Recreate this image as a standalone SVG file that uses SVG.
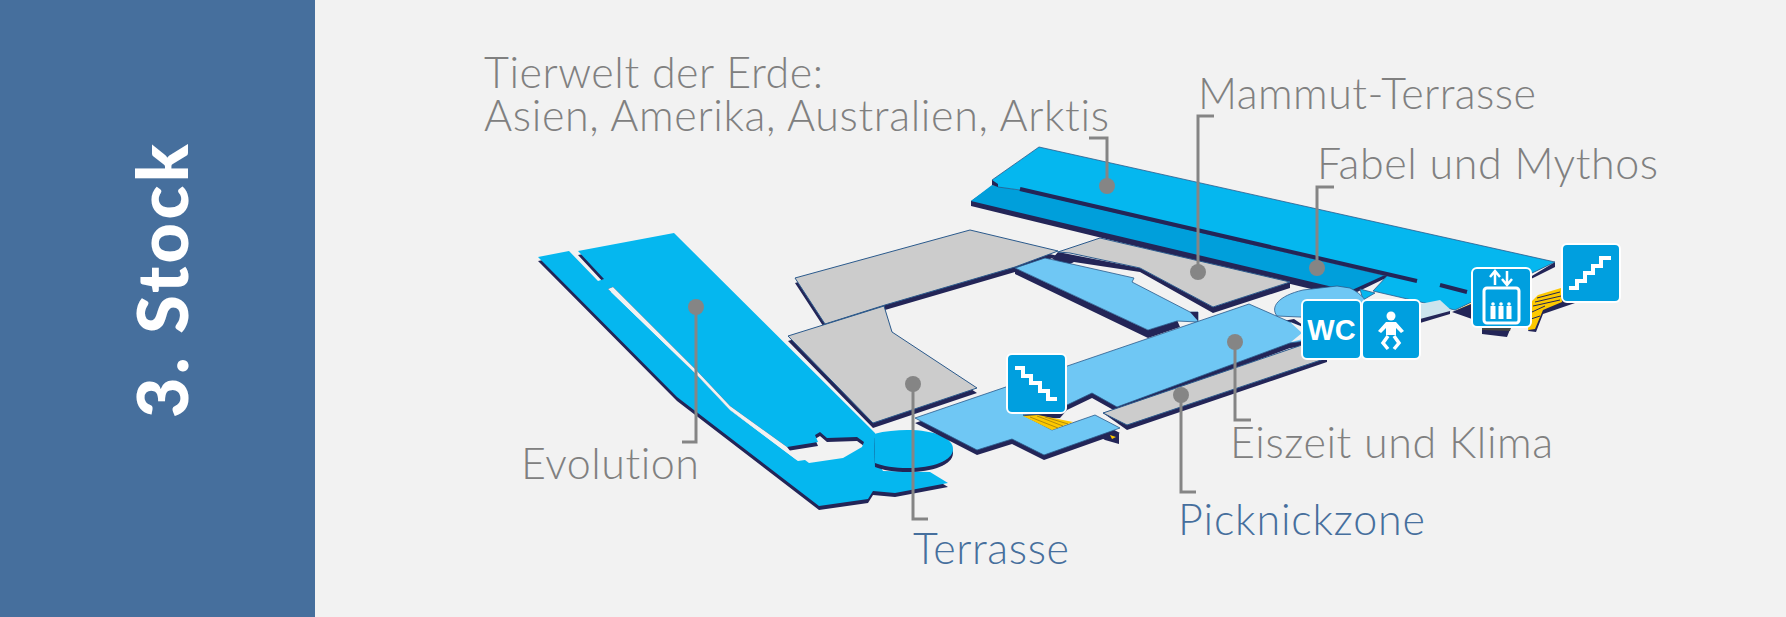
<svg xmlns="http://www.w3.org/2000/svg" width="1786" height="617" viewBox="0 0 1786 617">
<style>
.bright{fill:#05b7ef;stroke:#2b5a8c;stroke-width:.8}
.deep{fill:#009fdb}
.light{fill:#6fc7f4;stroke:#2b5a8c;stroke-width:.8}
.gray{fill:#cccccc;stroke:#2b5a8c;stroke-width:1}
.navy{fill:#232557}
.yellow{fill:#fdc800}
.bg{fill:#f2f2f2}
.lab{font-family:"Lato","Open Sans",sans-serif;font-weight:300;font-size:43px;fill:#808080;font-variant-ligatures:none}
.blu{fill:#466f9d}
.leader{fill:none;stroke:#858585;stroke-width:3}
.pin{fill:#858585}
.ico{fill:#009fdf;stroke:#fff;stroke-width:2}
.w{fill:none;stroke:#fff;stroke-width:4}
.wf{fill:#fff}
</style>
<defs>
<path id="evo" fill-rule="evenodd" d="M538,257 L569,251 L598,281 L604,279 L578,251 L674,233 L875,433 L880,466 L883,471 L930,472 L948,483 L895,493 L873,491 L868,499 L819,506 L677,397 Z M608,289 L613,287 L697,371 L730,406 L787,447 L818,442 L815,435 L820,432 L827,438 L857,437 L864,442 L862,447 L843,458 L809,463 L805,460 L798,461 L730,410 L696,374 Z"/>
<path id="oval" d="M874,434 C885,431 897,430 907,430 C935,430 953,438 953,449 C953,461 932,468 908,468 C895,468 882,466 875,463 Z"/>
<polygon id="g1" points="795,278 970,230 1058,251 1015,267 885,305 825,324"/>
<polygon id="g2" points="788,336 884,306 892,332 977,388 873,423"/>
<polygon id="mid" points="1015,268 1045,258 1134,278 1132,282 1190,312 1198,312 1198,322 1177,321 1148,330"/>
<polygon id="long" points="915,418 1249,304 1290,322 1312,331 1312,340 1290,343 1117,407 1092,393 1067,405 1060,413 1023,415 1052,430 1095,415 1120,428 1044,455 1012,439 977,450"/>
</defs>
<rect width="1786" height="617" class="bg"/>
<rect id="sidebar" width="315" height="617" fill="#466f9d"/>
<text id="floor" transform="translate(188,418) rotate(-90)" font-family="Lato,'Open Sans',sans-serif" font-weight="900" font-size="70" fill="#fff" textLength="274" lengthAdjust="spacing">3. Stock</text>

<g id="stairs-behind">
<polygon class="navy" points="1482,326 1513,322 1507,337 1482,334"/>
<polygon points="1482,322 1513,320 1510,331 1482,330" fill="#444"/>
<polygon class="yellow" points="1457,310 1472,303 1480,315 1470,316"/>
<polygon class="navy" points="1540,306 1562,296 1575,303 1543,314 1536,332 1528,331"/>
<polygon class="yellow" points="1528,305 1538,295 1561,288 1562,302 1543,310 1535,329 1528,330"/>
<path d="M1537,298 L1560,292 M1535,302 L1561,296 M1533,306 L1560,300 M1532,312 L1545,306 M1531,319 L1540,316" stroke="#232557" stroke-width="1" fill="none"/>
</g>

<g id="fabel">
<polygon class="navy" points="971,201 992,186 1337,285 1360,295 1340,296 971,206"/>
<polygon class="deep" points="971,201 992,185 1020,190 1387,276 1352,291 1337,288"/>
<polygon class="navy" points="1352,290 1385,275 1388,277 1355,293"/>
<polygon class="navy" points="1555,262 1555,267 1533,278 1452,312 1472,319 1472,312"/>
<polygon class="bright" points="992,180 1039,147 1555,262 1455,310 1373,291 1387,276 1020,190 998,187"/>
<polygon class="navy" points="992,180 998,184 998,187 992,185"/>
<path d="M1020,189 L1417,281 M1440,285 L1467,292" stroke="#232557" stroke-width="4" fill="none"/>
<polygon class="bright" points="1360,289 1375,293 1363,300"/>
</g>

<g id="mammut">
<polygon class="navy" points="1052,259 1058,252 1140,268 1213,307 1290,282 1290,288 1213,313 1140,272 1074,262 1068,265"/>
<polygon class="gray" points="1058,252 1100,238 1290,282 1213,307 1140,268 1070,253"/>
</g>

<g id="terrace-north">
<use href="#g1" class="navy" y="5"/>
<use href="#g1" class="gray"/>
</g>

<g id="mid-hall">
<polygon class="navy" points="1015,268 1015,274 1148,338 1180,327 1177,320 1148,330"/>
<use href="#mid" class="light"/>
<polygon class="navy" points="1190,312 1198,312 1198,321"/>
</g>

<g id="terrasse">
<use href="#g2" class="navy" y="5"/>
<use href="#g2" class="gray"/>
</g>

<g id="evolution">
<use href="#evo" class="navy" y="4"/>
<use href="#evo" fill="#05b7ef"/>
<polygon class="bg" points="608,289 613,287 697,371 730,406 787,447 798,461 730,410 696,374"/>
<use href="#oval" class="navy" y="4"/>
<use href="#oval" fill="#05b7ef"/>
</g>

<g id="eiszeit">
<path class="light" d="M1277,316 C1270,307 1278,296 1303,290 L1337,286 L1350,288 C1358,292 1365,298 1368,305 L1368,320 Z"/>
<polygon class="navy" points="1283,321 1294,319 1303,325 1303,328 1294,324"/>
<polygon class="navy" points="1290,343 1303,339 1303,344 1290,348"/>
<use href="#long" class="navy" y="5"/>
<use href="#long" class="light"/>
<polygon class="bg" points="1290,322 1303,327 1303,339 1291,342 1302,333"/>
<polygon class="yellow" points="1023,416 1038,415 1073,422 1052,430"/>
<path d="M1030,417 L1058,428 M1037,416 L1063,426 M1045,417 L1068,424" stroke="#9c7b10" stroke-width=".8" fill="none"/>
<polygon class="navy" points="1100,437 1119,433 1119,444 1105,440"/>
<polygon class="yellow" points="1110,435 1116,437 1112,439"/>
</g>

<g id="picknickzone">
<polygon class="navy" points="1103,413 1127,430 1327,362 1327,356"/>
<polygon class="gray" points="1103,413 1302,345 1327,358 1127,425"/>
<polygon points="1420,304 1440,300 1452,311 1420,320" fill="#cde4ed"/>
<polygon class="navy" points="1420,319 1450,311 1450,314 1420,323"/>
</g>

<g id="connectors">
<path class="leader" d="M696,307 V442 H682"/>
<path class="leader" d="M913,384 V519 H928"/>
<path class="leader" d="M1107,186 V138 H1089"/>
<path class="leader" d="M1198,272 V116 H1214"/>
<path class="leader" d="M1317,268 V187 H1334"/>
<path class="leader" d="M1235,342 V420 H1251"/>
<path class="leader" d="M1181,395 V492 H1196"/>
<circle class="pin" cx="696" cy="307" r="8"/>
<circle class="pin" cx="913" cy="384" r="8"/>
<circle class="pin" cx="1107" cy="186" r="8"/>
<circle class="pin" cx="1198" cy="272" r="8"/>
<circle class="pin" cx="1317" cy="268" r="8"/>
<circle class="pin" cx="1235" cy="342" r="8"/>
<circle class="pin" cx="1181" cy="395" r="8"/>
</g>

<g id="icon-stairs-down">
<rect class="ico" x="1007" y="354" width="59" height="59" rx="5"/>
<path class="w" d="M1015,368 H1023 V376 H1031 V383 H1040 V391 H1048 V399 H1057"/>
</g>
<g id="icon-wc">
<rect class="ico" x="1302" y="300" width="59" height="59" rx="5"/>
<text x="1331.500" y="340" text-anchor="middle" font-family="'Liberation Sans',Arial,sans-serif" font-weight="700" font-size="29" fill="#fff">WC</text>
</g>
<g id="icon-baby">
<rect class="ico" x="1362" y="300" width="58" height="59" rx="5"/>
<circle class="wf" cx="1391" cy="316" r="4.500"/>
<path class="wf" d="M1378,331 L1386,322 H1396 L1404,331 L1401,333 L1396,328 V335 H1386 V328 L1381,333 Z"/>
<path d="M1388,336 L1383,343 L1388,349 M1394,336 L1399,343 L1394,349" fill="none" stroke="#fff" stroke-width="3.500"/>
</g>
<g id="icon-lift">
<rect class="ico" x="1472" y="268" width="59" height="59" rx="5"/>
<rect x="1484" y="288" width="35" height="35" rx="3" fill="none" stroke="#fff" stroke-width="3"/>
<path d="M1495,285 V272 M1490,277 L1495,271 L1500,277 M1507,271 V284 M1502,279 L1507,285 L1512,279" fill="none" stroke="#fff" stroke-width="2.500"/>
<g class="wf">
<circle cx="1493" cy="304" r="1.800"/><rect x="1490.500" y="306" width="5" height="13"/>
<circle cx="1501" cy="304" r="1.800"/><rect x="1498.500" y="306" width="5" height="13"/>
<circle cx="1509" cy="304" r="1.800"/><rect x="1506.500" y="306" width="5" height="13"/>
</g>
</g>
<g id="icon-stairs-up">
<rect class="ico" x="1562" y="244" width="58" height="58" rx="5"/>
<path class="w" d="M1569,288 H1577 V281 H1585 V273 H1593 V266 H1601 V258 H1611"/>
</g>

<g id="labels">
<text class="lab" x="484" y="88" textLength="339">Tierwelt der Erde:</text>
<text class="lab" x="484" y="131" textLength="625">Asien, Amerika, Australien, Arktis</text>
<text class="lab" x="1198" y="109" textLength="338">Mammut-Terrasse</text>
<text class="lab" x="1317" y="179" textLength="341">Fabel und Mythos</text>
<text class="lab" x="521" y="479" textLength="178">Evolution</text>
<text class="lab" x="1230" y="458" textLength="323">Eiszeit und Klima</text>
<text class="lab blu" x="1178" y="535" textLength="247">Picknickzone</text>
<text class="lab blu" x="913" y="564" textLength="156">Terrasse</text>
</g>
</svg>
